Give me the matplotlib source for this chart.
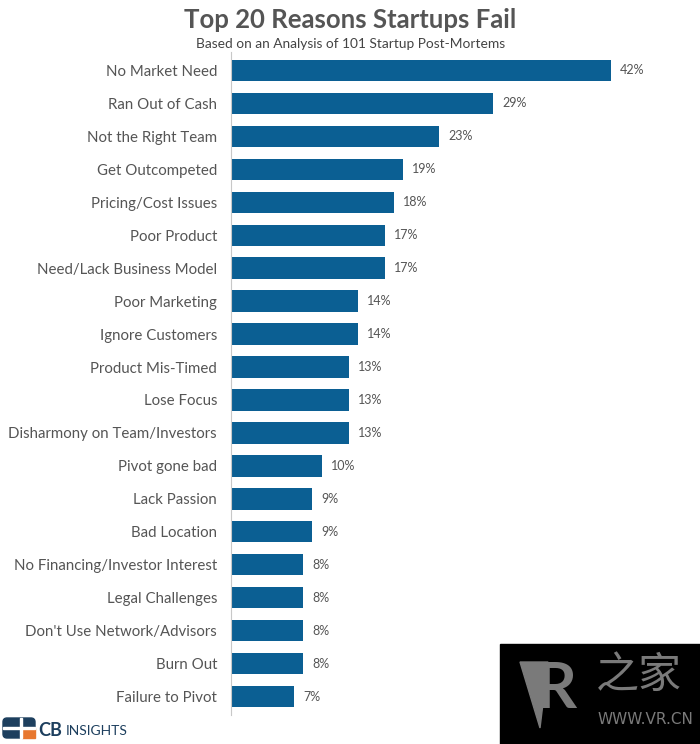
import matplotlib
matplotlib.use("Agg")
import matplotlib.pyplot as plt
from matplotlib.patches import FancyBboxPatch, Rectangle, Polygon

categories = ["No Market Need", "Ran Out of Cash", "Not the Right Team", "Get Outcompeted",
              "Pricing/Cost Issues", "Poor Product", "Need/Lack Business Model", "Poor Marketing",
              "Ignore Customers", "Product Mis-Timed", "Lose Focus", "Disharmony on Team/Investors",
              "Pivot gone bad", "Lack Passion", "Bad Location", "No Financing/Investor Interest",
              "Legal Challenges", "Don't Use Network/Advisors", "Burn Out", "Failure to Pivot"]
values = [42, 29, 23, 19, 18, 17, 17, 14, 14, 13, 13, 13, 10, 9, 9, 8, 8, 8, 8, 7]
value_labels = [f"{v}%" for v in values]

FONT = ["Lato", "DejaVu Sans"]
BAR = "#0b5f93"
TXT = "#555555"

W, H = 700, 744
fig = plt.figure(figsize=(W/100, H/100), dpi=100)

left, right = 231, 700
top, bottom = 52, 715
ax = fig.add_axes([left/W, 1-bottom/H, (right-left)/W, (bottom-top)/H])

n = len(categories)
ypos = list(range(n))
ax.barh(ypos, values, height=0.64, color=BAR, edgecolor="none")
ax.set_ylim(n-0.5+0.05, -0.5-0.05)
ax.set_xlim(0, (right-left)/9.05)

ax.set_yticks(ypos)
ax.set_yticklabels(categories, fontsize=10.8, color=TXT, family=FONT)
ax.tick_params(axis="y", length=0, pad=10)
ax.set_xticks([])
for s in ["top", "right", "bottom"]:
    ax.spines[s].set_visible(False)
ax.spines["left"].set_color("#c8c8c8")
ax.spines["left"].set_linewidth(0.8)

for y, v, lab in zip(ypos, values, value_labels):
    ax.text(v + 1.0, y, lab, va="center", ha="left", fontsize=9, color=TXT, family=FONT)

fig.text(350/W, 1-20/H, "Top 20 Reasons Startups Fail", ha="center", va="center",
         fontsize=18.5, fontweight="bold", color="#555555", family=FONT)
fig.text(351/W, 1-44/H, "Based on an Analysis of 101 Startup Post-Mortems", ha="center", va="center",
         fontsize=9.9, color="#444444", family=FONT)

# CB Insights logo
fa = fig.add_axes([0, 0, 1, 1], facecolor="none")
fa.set_xlim(0, W); fa.set_ylim(H, 0); fa.axis("off")
fa.add_patch(FancyBboxPatch((3, 718), 32, 20, boxstyle="round,pad=0,rounding_size=4",
                            color="#1d3f5e"))
fa.add_patch(Rectangle((22, 728), 13, 10, color="#e8772e"))
fa.add_patch(Rectangle((20, 718), 2, 20, color="white"))
fa.add_patch(Rectangle((3, 727), 32, 1.5, color="white"))
fa.text(38, 730, "CB", fontsize=13, fontweight="bold", color="#1d3f5e", va="center", ha="left", family=FONT)
fa.text(66, 731, "INSIGHTS", fontsize=10, color="#1d3f5e", va="center", ha="left", family=FONT)

# watermark
fa.add_patch(Rectangle((500, 644), 200, 100, color="black"))
fa.add_patch(Polygon([[520, 662], [548, 662], [540, 728]], closed=True, color="#7a7a7a"))
fa.text(536, 690, "R", fontsize=46, fontweight="bold", color="#7a7a7a", va="center", ha="left",
        family=FONT)
fa.text(596, 676, "之家", fontsize=31, color="#7a7a7a", va="center", ha="left",
        family=["Noto Sans CJK SC", "DejaVu Sans"])
fa.text(598, 720, "WWW.VR.CN", fontsize=11, color="#7a7a7a", va="center", ha="left",
        family=["DejaVu Sans"])

fig.savefig("out.png", dpi=100, facecolor="white")
